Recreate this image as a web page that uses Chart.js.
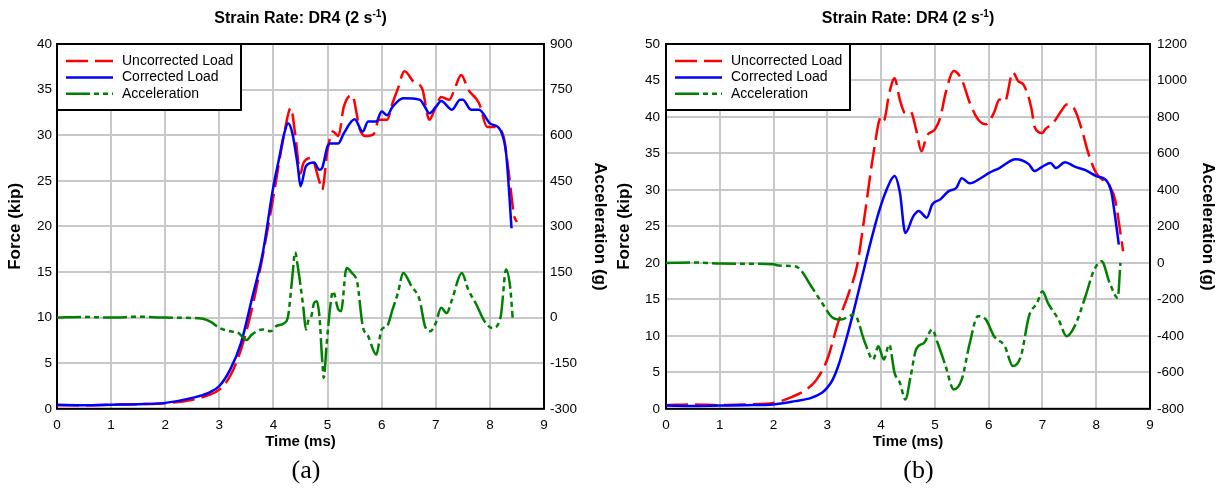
<!DOCTYPE html>
<html>
<head>
<meta charset="utf-8">
<script src="https://cdn.jsdelivr.net/npm/chart.js@4.4.0/dist/chart.umd.min.js"></script>
<style>
body { margin: 0; background: #fff; }
#wrap { position: relative; width: 1225px; height: 491px; }
canvas { position: absolute; top: 0; }
#chartA { left: 0; }
#chartB { left: 612px; }
</style>
</head>
<body>
<div id="wrap">
<canvas id="chartA" width="612" height="491"></canvas>
<canvas id="chartB" width="613" height="491"></canvas>
</div>
<script>
const titleMain = 'Strain Rate: DR4 (2 s';
const titleSup = '-1';
const titleEnd = ')';
const seriesNames = ['Uncorrected Load', 'Corrected Load', 'Acceleration'];

// (a) time in ms, force in kip, acceleration in g
const tUncA = [0, 0.5, 1.0, 1.5, 2.0, 2.5, 2.8, 3.0, 3.2, 3.4, 3.6, 3.8, 4.0, 4.2, 4.32, 4.4, 4.5, 4.55, 4.7, 4.85, 4.9, 5.0, 5.1, 5.2, 5.3, 5.45, 5.6, 5.7, 5.85, 5.95, 6.1, 6.2, 6.3, 6.42, 6.6, 6.75, 6.88, 7.0, 7.1, 7.25, 7.35, 7.47, 7.6, 7.8, 7.95, 8.1, 8.25, 8.35, 8.45, 8.5];
const uncA = [0.4, 0.4, 0.45, 0.5, 0.6, 1.0, 1.5, 2.1, 3.6, 6.5, 10.9, 16.7, 23.3, 30.2, 33.0, 30.2, 25.8, 26.9, 27.5, 24.9, 24.0, 28.4, 30.4, 29.9, 33.1, 34.4, 30.6, 29.9, 30.1, 31.7, 31.7, 33.5, 35.1, 37.0, 35.8, 35.1, 31.7, 33.1, 34.2, 33.9, 35.1, 36.6, 35.0, 33.5, 30.9, 30.9, 29.9, 25.8, 21.1, 20.5];
const tCorA = [0, 0.5, 1.0, 1.5, 2.0, 2.5, 2.8, 3.0, 3.2, 3.4, 3.6, 3.8, 4.0, 4.1, 4.2, 4.27, 4.35, 4.45, 4.5, 4.6, 4.75, 4.85, 4.9, 5.0, 5.05, 5.2, 5.3, 5.5, 5.65, 5.75, 5.9, 6.0, 6.1, 6.2, 6.4, 6.7, 6.8, 6.88, 7.0, 7.1, 7.3, 7.45, 7.5, 7.65, 7.8, 8.0, 8.15, 8.22, 8.3, 8.4];
const corA = [0.45, 0.4, 0.45, 0.5, 0.65, 1.2, 1.75, 2.5, 4.3, 7.2, 12.0, 17.0, 24.4, 27.3, 30.2, 31.3, 30.2, 26.6, 24.4, 26.6, 27.0, 26.2, 26.4, 28.8, 29.1, 29.1, 30.2, 31.75, 30.4, 31.5, 31.5, 32.6, 32.2, 33.1, 34.05, 33.9, 33.1, 32.4, 33.1, 33.75, 32.8, 33.9, 33.9, 32.8, 32.8, 31.3, 30.9, 30.2, 28.0, 19.8];
const tAccA = [0, 0.5, 1.0, 1.5, 2.0, 2.6, 2.7, 2.85, 3.0, 3.2, 3.35, 3.5, 3.6, 3.8, 3.95, 4.05, 4.2, 4.27, 4.35, 4.4, 4.45, 4.55, 4.6, 4.65, 4.7, 4.75, 4.8, 4.85, 4.9, 4.93, 4.98, 5.05, 5.1, 5.2, 5.25, 5.35, 5.45, 5.55, 5.65, 5.75, 5.9, 6.0, 6.1, 6.2, 6.3, 6.4, 6.55, 6.7, 6.8, 6.9, 7.0, 7.1, 7.2, 7.3, 7.48, 7.6, 7.75, 7.9, 8.05, 8.2, 8.3, 8.38, 8.42];
const accA = [0, 2, 0, 3, 0, -2, -4, -15, -34, -45, -50, -74, -56, -39, -45, -28, -18, 4, 136, 215, 168, 37, -39, -7, 4, 48, 54, 4, -138, -198, -94, 37, 87, 26, 21, 163, 147, 114, -28, -61, -122, -39, -28, 26, 81, 147, 103, 59, -28, -45, -18, 32, 15, 59, 147, 92, 43, -12, -34, 4, 158, 92, 0];

// (b)
const tUncB = [0, 0.5, 1.0, 1.5, 2.0, 2.3, 2.6, 2.8, 3.0, 3.2, 3.4, 3.55, 3.7, 3.85, 4.0, 4.05, 4.15, 4.25, 4.35, 4.45, 4.55, 4.65, 4.75, 4.85, 5.0, 5.1, 5.2, 5.35, 5.5, 5.65, 5.8, 5.95, 6.1, 6.2, 6.3, 6.45, 6.55, 6.65, 6.8, 6.85, 7.0, 7.05, 7.2, 7.35, 7.45, 7.6, 7.75, 7.85, 8.0, 8.15, 8.25, 8.35, 8.45, 8.5];
const uncB = [0.5, 0.6, 0.5, 0.6, 0.8, 1.5, 2.6, 4.0, 6.8, 11.8, 15.9, 19.5, 26.8, 34.6, 40.0, 39.5, 43.2, 45.3, 42.3, 40.5, 40.7, 38.3, 35.3, 37.4, 38.3, 39.9, 43.3, 46.3, 45.1, 41.9, 39.7, 39.0, 40.6, 42.4, 42.1, 46.1, 44.9, 44.4, 41.0, 38.7, 37.8, 38.3, 39.2, 40.8, 41.7, 41.0, 37.8, 35.1, 32.3, 31.2, 30.5, 28.7, 24.1, 21.6];
const tCorB = [0, 0.5, 1.0, 1.5, 2.0, 2.4, 2.7, 2.9, 3.0, 3.1, 3.2, 3.35, 3.5, 3.65, 3.8, 3.95, 4.1, 4.25, 4.35, 4.45, 4.6, 4.7, 4.85, 4.95, 5.1, 5.25, 5.4, 5.5, 5.65, 5.85, 6.0, 6.2, 6.5, 6.75, 6.85, 7.0, 7.15, 7.25, 7.42, 7.6, 7.8, 8.0, 8.2, 8.28, 8.35, 8.42];
const corB = [0.45, 0.4, 0.45, 0.5, 0.6, 1.05, 1.5, 2.2, 2.9, 4.0, 5.8, 9.5, 13.7, 18.2, 22.7, 26.8, 30.0, 31.9, 29.6, 24.1, 26.4, 27.1, 26.2, 28.0, 28.7, 29.8, 30.3, 31.6, 30.9, 31.6, 32.3, 33.0, 34.2, 33.5, 32.6, 33.2, 33.7, 33.0, 33.8, 33.2, 32.7, 31.9, 31.2, 29.8, 26.4, 22.5];
const tAccB = [0, 0.5, 1.0, 1.5, 2.0, 2.1, 2.4, 2.5, 2.7, 2.9, 3.1, 3.25, 3.5, 3.7, 3.85, 3.95, 4.05, 4.15, 4.25, 4.35, 4.45, 4.55, 4.65, 4.8, 4.95, 5.05, 5.2, 5.35, 5.5, 5.65, 5.8, 5.95, 6.1, 6.3, 6.45, 6.6, 6.75, 6.9, 7.0, 7.1, 7.3, 7.45, 7.6, 7.8, 7.95, 8.1, 8.25, 8.4, 8.45];
const accB = [0, 2, -3, -5, -8, -15, -18, -37, -128, -219, -301, -311, -283, -438, -530, -457, -530, -447, -603, -658, -749, -621, -475, -438, -365, -438, -566, -694, -639, -438, -292, -311, -402, -457, -566, -511, -292, -219, -155, -219, -311, -402, -347, -183, -46, 9, -110, -192, 0];

const FONT = '"Liberation Sans", Arial, sans-serif';

function toPoints(xs, ys) {
    return xs.map((x, i) => ({ x: x, y: ys[i] }));
}

// frame, legend box and title with superscript
const decor = {
    id: 'decor',
    beforeDatasetsDraw(chart) {
        const a = chart.chartArea;
        const ctx = chart.ctx;
        ctx.save();
        ctx.strokeStyle = '#000';
        ctx.lineWidth = 2;
        ctx.strokeRect(a.left, a.top, a.right - a.left, a.bottom - a.top);
        ctx.restore();
    },
    afterDatasetsDraw(chart) {
        const a = chart.chartArea;
        const ctx = chart.ctx;
        ctx.save();
        // legend
        ctx.fillStyle = '#fff';
        ctx.fillRect(a.left, a.top, 184, 66);
        ctx.strokeStyle = '#000';
        ctx.lineWidth = 2;
        ctx.strokeRect(a.left, a.top, 184, 66);
        chart.data.datasets.forEach((ds, i) => {
            const y = a.top + 17 + i * 16.4;
            ctx.strokeStyle = ds.borderColor;
            ctx.lineWidth = ds.borderWidth;
            ctx.setLineDash(ds.borderDash || []);
            ctx.beginPath();
            ctx.moveTo(a.left + 9, y);
            ctx.lineTo(a.left + 56, y);
            ctx.stroke();
            ctx.setLineDash([]);
            ctx.fillStyle = '#000';
            ctx.font = '14px ' + FONT;
            ctx.textBaseline = 'middle';
            ctx.textAlign = 'left';
            ctx.fillText(ds.label, a.left + 65, y);
        });
        // title
        const cx = (a.left + a.right) / 2;
        ctx.textBaseline = 'alphabetic';
        ctx.font = 'bold 16px ' + FONT;
        const w1 = ctx.measureText(titleMain).width;
        const w3 = ctx.measureText(titleEnd).width;
        ctx.font = 'bold 10px ' + FONT;
        const w2 = ctx.measureText(titleSup).width;
        let x = cx - (w1 + w2 + w3) / 2;
        ctx.fillStyle = '#000';
        ctx.font = 'bold 16px ' + FONT;
        ctx.fillText(titleMain, x, 23);
        ctx.font = 'bold 10px ' + FONT;
        ctx.fillText(titleSup, x + w1, 16.5);
        ctx.font = 'bold 16px ' + FONT;
        ctx.fillText(titleEnd, x + w1 + w2, 23);
        ctx.restore();
    }
};

function makeChart(id, d) {
    const ctx = document.getElementById(id).getContext('2d');
    const tickFont = { family: FONT, size: 13.5 };
    const xTitleFont = { family: FONT, size: 15, weight: 'bold' };
    const yTitleFont = { family: FONT, size: 17, weight: 'bold' };
    return new Chart(ctx, {
        type: 'line',
        data: {
            datasets: [
                {
                    label: seriesNames[0],
                    data: toPoints(d.tUnc, d.unc),
                    borderColor: '#ff0000',
                    borderWidth: 2.5,
                    borderDash: [22, 7],
                    yAxisID: 'y',
                    order: 3
                },
                {
                    label: seriesNames[1],
                    data: toPoints(d.tCor, d.cor),
                    borderColor: '#0000ff',
                    borderWidth: 2.5,
                    yAxisID: 'y',
                    order: 2
                },
                {
                    label: seriesNames[2],
                    data: toPoints(d.tAcc, d.acc),
                    borderColor: '#008000',
                    borderWidth: 2.5,
                    borderDash: [24, 4, 5, 4, 5, 4],
                    yAxisID: 'y1',
                    order: 1
                }
            ]
        },
        options: {
            responsive: false,
            devicePixelRatio: 1,
            animation: false,
            layout: { padding: { top: 44, left: 0, right: 0, bottom: 0 } },
            elements: {
                point: { radius: 0 },
                line: { tension: 0.3, cubicInterpolationMode: 'monotone', fill: false }
            },
            plugins: {
                legend: { display: false },
                tooltip: { enabled: false },
                title: { display: false },
                subtitle: {
                    display: true,
                    position: 'bottom',
                    text: d.label,
                    color: '#000',
                    font: { family: '"Liberation Serif", "Times New Roman", serif', size: 26, weight: 'normal' },
                    padding: { top: 4, bottom: 4 }
                }
            },
            scales: {
                x: {
                    type: 'linear',
                    min: 0,
                    max: 9,
                    ticks: { stepSize: 1, padding: 8, color: '#000', font: tickFont },
                    grid: { color: '#c8c8c8', lineWidth: 2, drawTicks: false },
                    border: { display: false },
                    title: { display: true, text: 'Time (ms)', color: '#000', font: xTitleFont, padding: { top: 0, bottom: 1 } },
                    afterFit: s => { s.height = 43; }
                },
                y: {
                    position: 'left',
                    min: 0,
                    max: d.fMax,
                    ticks: { stepSize: 5, padding: d.leftPad, color: '#000', font: tickFont },
                    grid: { color: '#c8c8c8', lineWidth: 2, drawTicks: false },
                    border: { display: false },
                    title: { display: true, text: 'Force (kip)', color: '#000', font: yTitleFont, padding: { top: d.leftTitlePad, bottom: 0 } },
                    afterFit: s => { s.width = d.leftW; }
                },
                y1: {
                    position: 'right',
                    min: d.aMin,
                    max: d.aMax,
                    ticks: { stepSize: d.aStep, padding: d.rightPad, color: '#000', font: tickFont, callback: v => String(v) },
                    grid: { display: false, drawTicks: false },
                    border: { display: false },
                    title: { display: true, text: 'Acceleration (g)', color: '#000', font: yTitleFont, padding: { top: d.rightTitlePad, bottom: 0 } },
                    afterFit: s => { s.width = d.rightW; }
                }
            }
        },
        plugins: [decor]
    });
}

makeChart('chartA', {
    tUnc: tUncA, unc: uncA, tCor: tCorA, cor: corA, tAcc: tAccA, acc: accA,
    fMax: 40, aMin: -300, aMax: 900, aStep: 150, label: '(a)',
    leftW: 57, rightW: 68, leftPad: 5, rightPad: 6, leftTitlePad: 5, rightTitlePad: 2
});
makeChart('chartB', {
    tUnc: tUncB, unc: uncB, tCor: tCorB, cor: corB, tAcc: tAccB, acc: accB,
    fMax: 50, aMin: -800, aMax: 1200, aStep: 200, label: '(b)',
    leftW: 54, rightW: 75, leftPad: 6, rightPad: 7, leftTitlePad: 2, rightTitlePad: 7
});
</script>
</body>
</html>
